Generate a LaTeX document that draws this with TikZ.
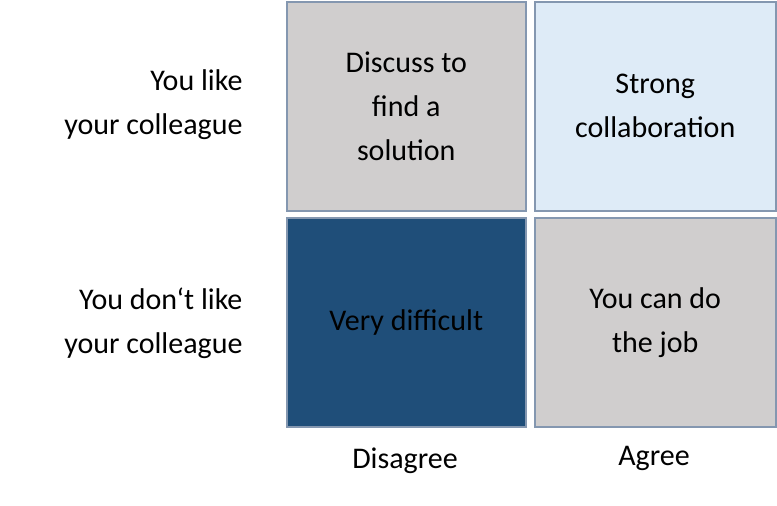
\documentclass[tikz,border=0pt]{standalone}
\usepackage{fontspec}
\setmainfont{Carlito}
\definecolor{gbox}{HTML}{D0CECE}
\definecolor{lbox}{HTML}{DEEBF7}
\definecolor{dbox}{HTML}{1F4E79}
\definecolor{edge}{HTML}{8497B0}
\begin{document}
\begin{tikzpicture}[x=1pt,y=-1pt,
  cell/.style={draw=edge,line width=1.5pt,minimum width=239pt,minimum height=209pt,anchor=north west,inner sep=0pt,
    font=\fontsize{30}{44}\selectfont,align=center},
  lab/.style={font=\fontsize{30}{44}\selectfont,align=right,anchor=east},
  clab/.style={font=\fontsize{30}{44}\selectfont}]
\useasboundingbox (0,0) rectangle (777,506);
\node[cell,fill=gbox] (a) at (286,1) {Discuss to\\find a\\solution};
\node[cell,fill=lbox,minimum width=241pt] (b) at (534,1) {Strong\\collaboration};
\node[cell,fill=dbox] (c) at (286,217) {Very difficult};
\node[cell,fill=gbox,minimum width=241pt] (d) at (534,217) {You can do\\the job};
\node[lab] (l1) at (246,105) {You like\\your colleague};
\node[lab] (l2) at (246,323) {You don‘t like\\your colleague};
\node[clab] (x1) at (405,461) {Disagree};
\node[clab] (x2) at (654,458) {Agree};
\end{tikzpicture}
\end{document}
